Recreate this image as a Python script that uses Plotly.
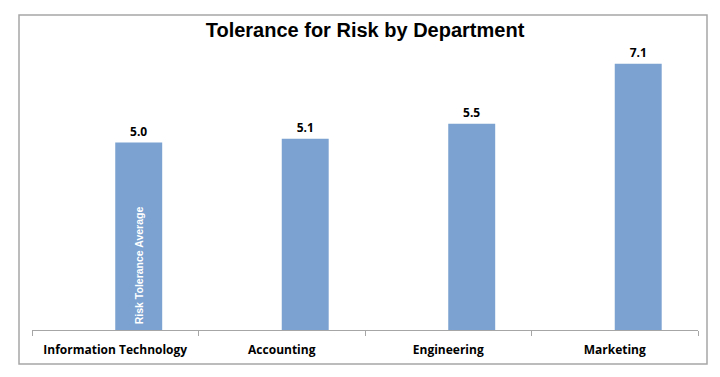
import plotly.graph_objects as go

departments = ["Information Technology", "Accounting", "Engineering", "Marketing"]
risk_tolerance = [5.0, 5.1, 5.5, 7.1]
value_labels = ["5.0", "5.1", "5.5", "7.1"]

W, H = 720, 377
ml, mr, mt, mb = 32, 22, 30, 47

fig = go.Figure()
fig.add_trace(go.Bar(
    x=departments, y=risk_tolerance,
    text=value_labels, textposition="outside",
    textfont=dict(family="Open Sans", size=12, color="#000000", weight="bold"),
    cliponaxis=False,
    width=0.282, offset=0.0,
    marker=dict(color="#7BA2D0", line=dict(width=0)),
    hoverinfo="skip",
))

fig.update_layout(
    width=W, height=H,
    margin=dict(l=ml, r=mr, t=mt, b=mb),
    paper_bgcolor="white", plot_bgcolor="white",
    showlegend=False,
    title=dict(text="<b>Tolerance for Risk by Department</b>",
               x=0.5, xanchor="center", xref="paper",
               y=1 - 30 / H, yanchor="middle",
               font=dict(family="Liberation Sans", size=20, color="#000000")),
    xaxis=dict(range=[-0.5, 3.5], showgrid=False, zeroline=False,
               showline=True, linecolor="#A6A6A6", linewidth=1,
               ticks="outside", ticklen=5, tickcolor="#A6A6A6",
               tickson="boundaries", ticklabelstandoff=9,
               tickfont=dict(family="Open Sans", size=12, color="#000000", weight="bold")),
    yaxis=dict(range=[0, 8], visible=False, showgrid=False, zeroline=False),
    bargap=0.5,
)

fig.add_annotation(
    x=0.141, y=1.72, xref="x", yref="y",
    text="<b>Risk Tolerance Average</b>", textangle=-90, showarrow=False,
    font=dict(family="Liberation Sans Narrow, Liberation Sans", size=10.5, color="white"),
)

fig.add_shape(type="rect", xref="paper", yref="paper",
              x0=(19 - ml) / (W - ml - mr), x1=(707 - ml) / (W - ml - mr),
              y0=(H - mb - 364) / (H - mt - mb), y1=(H - mb - 15) / (H - mt - mb),
              line=dict(color="#A6A6A6", width=1.5), layer="below")

fig.write_html("out.html", config={"displayModeBar": False},
               post_script="document.body.style.margin='0';")
